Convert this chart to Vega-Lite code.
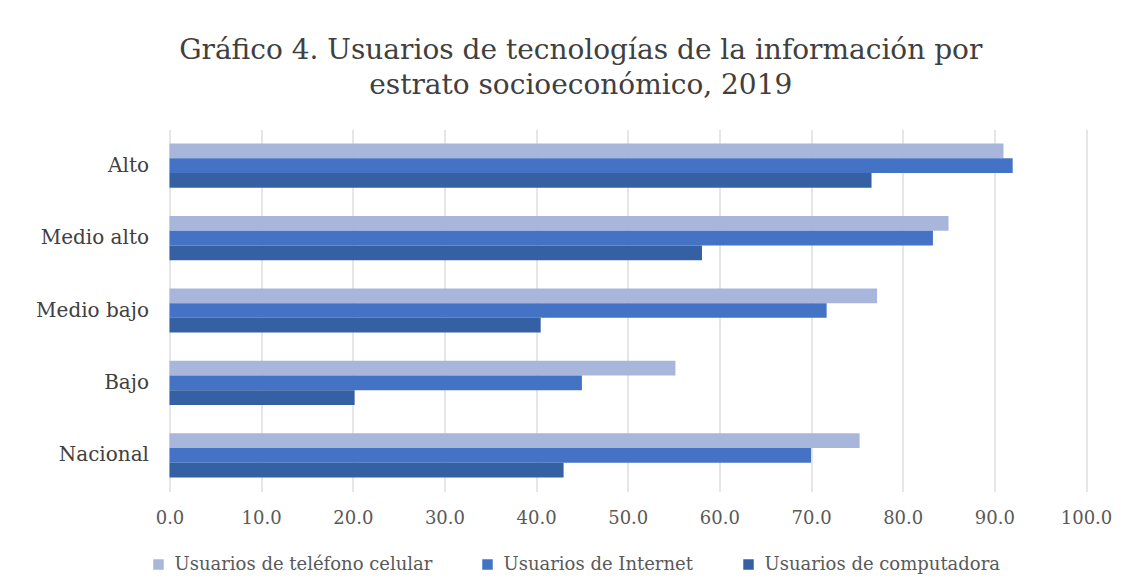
{
  "$schema": "https://vega.github.io/schema/vega-lite/v6.json",
  "width": 916.5,
  "height": 362,
  "autosize": {"type": "none"},
  "padding": {"left": 169.5, "top": 129.5, "right": 49, "bottom": 95.5},
  "background": "white",
  "title": {
    "text": ["Gráfico 4. Usuarios de tecnologías de la información por", "estrato socioeconómico, 2019"],
    "font": "DejaVu Serif",
    "fontSize": 28,
    "fontWeight": "normal",
    "color": "#404040",
    "anchor": "middle",
    "dx": -47,
    "offset": 30,
    "lineHeight": 35
  },
  "data": {
    "values": [
      {"estrato": "Alto", "serie": "Usuarios de teléfono celular", "valor": 91.0},
      {"estrato": "Alto", "serie": "Usuarios de Internet", "valor": 92.0},
      {"estrato": "Alto", "serie": "Usuarios de computadora", "valor": 76.6},
      {"estrato": "Medio alto", "serie": "Usuarios de teléfono celular", "valor": 85.0},
      {"estrato": "Medio alto", "serie": "Usuarios de Internet", "valor": 83.3},
      {"estrato": "Medio alto", "serie": "Usuarios de computadora", "valor": 58.1},
      {"estrato": "Medio bajo", "serie": "Usuarios de teléfono celular", "valor": 77.2},
      {"estrato": "Medio bajo", "serie": "Usuarios de Internet", "valor": 71.7},
      {"estrato": "Medio bajo", "serie": "Usuarios de computadora", "valor": 40.5},
      {"estrato": "Bajo", "serie": "Usuarios de teléfono celular", "valor": 55.2},
      {"estrato": "Bajo", "serie": "Usuarios de Internet", "valor": 45.0},
      {"estrato": "Bajo", "serie": "Usuarios de computadora", "valor": 20.2},
      {"estrato": "Nacional", "serie": "Usuarios de teléfono celular", "valor": 75.3},
      {"estrato": "Nacional", "serie": "Usuarios de Internet", "valor": 70.0},
      {"estrato": "Nacional", "serie": "Usuarios de computadora", "valor": 43.0}
    ]
  },
  "mark": {"type": "bar"},
  "encoding": {
    "y": {
      "field": "estrato",
      "type": "nominal",
      "sort": ["Alto", "Medio alto", "Medio bajo", "Bajo", "Nacional"],
      "scale": {"paddingInner": 0.39, "paddingOuter": 0.195},
      "axis": {
        "title": null,
        "domain": false,
        "ticks": false,
        "labelFont": "DejaVu Serif",
        "labelFontSize": 20,
        "labelColor": "#404040",
        "labelPadding": 21
      }
    },
    "yOffset": {
      "field": "serie",
      "type": "nominal",
      "sort": ["Usuarios de teléfono celular", "Usuarios de Internet", "Usuarios de computadora"]
    },
    "x": {
      "field": "valor",
      "type": "quantitative",
      "scale": {"domain": [0, 100], "nice": false},
      "axis": {
        "title": null,
        "values": [0, 10, 20, 30, 40, 50, 60, 70, 80, 90, 100],
        "format": ".1f",
        "domain": false,
        "ticks": false,
        "grid": true,
        "gridColor": "#d9d9d9",
        "gridWidth": 1.3,
        "labelFont": "DejaVu Serif",
        "labelFontSize": 18,
        "labelColor": "#595959",
        "labelPadding": 18,
        "labelFlush": false
      }
    },
    "color": {
      "field": "serie",
      "type": "nominal",
      "scale": {
        "domain": ["Usuarios de teléfono celular", "Usuarios de Internet", "Usuarios de computadora"],
        "range": ["#A9B6DB", "#4472C4", "#3560A4"]
      },
      "legend": {
        "title": null,
        "orient": "none",
        "direction": "horizontal",
        "legendX": -20,
        "legendY": 426,
        "symbolType": "square",
        "symbolSize": 110,
        "symbolStrokeWidth": 0,
        "labelFont": "DejaVu Serif",
        "labelFontSize": 18,
        "labelColor": "#595959",
        "labelOffset": 7,
        "labelLimit": 0,
        "columnPadding": 46
      }
    }
  },
  "config": {"view": {"stroke": null}}
}
